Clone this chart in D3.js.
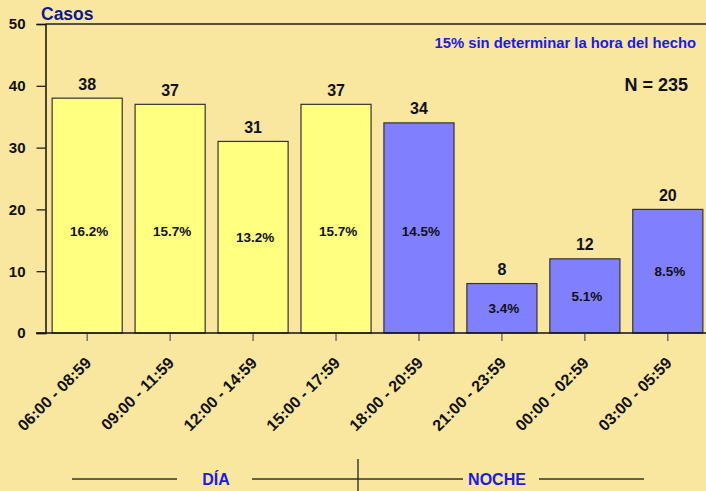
<!DOCTYPE html>
<html>
<head>
<meta charset="utf-8">
<script src="https://cdn.jsdelivr.net/npm/d3@7"></script>
<style>
	body { margin: 0; background: #f9e79f; }
	svg { display: block; font-family: 'Liberation Sans', Arial, sans-serif; font-weight: bold; }
</style>
</head>
<body>
<div id="chart"></div>
<script>
// data
const franjas = ['06:00 - 08:59', '09:00 - 11:59', '12:00 - 14:59', '15:00 - 17:59',
	'18:00 - 20:59', '21:00 - 23:59', '00:00 - 02:59', '03:00 - 05:59'];
const casos = [38, 37, 31, 37, 34, 8, 12, 20];
const porcentajes = ['16.2%', '15.7%', '13.2%', '15.7%', '14.5%', '3.4%', '5.1%', '8.5%'];
const periodo = ['DÍA', 'DÍA', 'DÍA', 'DÍA', 'NOCHE', 'NOCHE', 'NOCHE', 'NOCHE'];
const yTicks = [0, 10, 20, 30, 40, 50];

const config = {
	width: 706,
	height: 491,
	margin: {top: 24, left: 45.5, bottom: 158},
	colours: {'DÍA': '#ffff80', 'NOCHE': '#8080ff'},
	// bracket under the axis: [line from, line to] pairs and label centres
	bracketY: 479,
	divider: 358,
	brackets: [
		{label: 'DÍA', cx: 216, left: [72, 177], right: [252, 358]},
		{label: 'NOCHE', cx: 497, left: [358, 463], right: [539, 644]}
	]
};

const svg = d3.select('#chart')
	.append('svg')
	.attr('width', config.width)
	.attr('height', config.height);

const x = d3.scaleBand()
	.domain(franjas)
	.range([config.margin.left, config.margin.left + 83 * franjas.length])
	.paddingInner(0.155)
	.paddingOuter(0.08);

const y = d3.scaleLinear()
	.domain([0, 50])
	.range([config.height - config.margin.bottom, config.margin.top]);

// top frame line
svg.append('line')
	.attr('x1', config.margin.left).attr('x2', config.width)
	.attr('y1', y(50)).attr('y2', y(50))
	.attr('stroke', '#222').attr('stroke-width', 1.5);

// bars
svg.append('g')
	.selectAll('rect')
	.data(franjas)
	.enter()
	.append('rect')
		.attr('x', d => x(d))
		.attr('y', (d, i) => y(casos[i]))
		.attr('width', x.bandwidth())
		.attr('height', (d, i) => y(0) - y(casos[i]))
		.attr('fill', (d, i) => config.colours[periodo[i]])
		.attr('stroke', '#333')
		.attr('stroke-width', 1.2);

// values over bars
svg.append('g')
	.selectAll('text')
	.data(franjas)
	.enter()
	.append('text')
		.attr('x', d => x(d) + x.bandwidth() / 2)
		.attr('y', (d, i) => y(casos[i]) - 8.5)
		.attr('text-anchor', 'middle')
		.attr('font-size', 16)
		.attr('fill', '#111')
		.text((d, i) => casos[i]);

// percentages inside bars
svg.append('g')
	.selectAll('text')
	.data(franjas)
	.enter()
	.append('text')
		.attr('x', d => x(d) + x.bandwidth() / 2 + 2)
		.attr('y', (d, i) => y(Math.min(casos[i] / 2, 16.5)) + 5)
		.attr('text-anchor', 'middle')
		.attr('font-size', 13.5)
		.attr('fill', '#111')
		.text((d, i) => porcentajes[i]);

// y axis
const yAxis = svg.append('g')
	.attr('transform', `translate(${config.margin.left},0)`)
	.call(d3.axisLeft(y).tickValues(yTicks).tickSize(9).tickPadding(11));
yAxis.select('.domain').attr('stroke', '#111').attr('stroke-width', 1.5);
yAxis.selectAll('.tick line').attr('stroke', '#111').attr('stroke-width', 1.2);
yAxis.selectAll('.tick text')
	.attr('font-size', 15)
	.attr('font-family', 'Liberation Sans, Arial, sans-serif')
	.attr('font-weight', 'bold')
	.attr('fill', '#111');

// x axis
const xAxis = svg.append('g')
	.attr('transform', `translate(0,${y(0)})`)
	.call(d3.axisBottom(x).tickSize(8).tickSizeOuter(0));
xAxis.select('.domain').remove();
svg.append('line')
	.attr('x1', 36).attr('x2', config.width)
	.attr('y1', y(0)).attr('y2', y(0))
	.attr('stroke', '#111').attr('stroke-width', 1.5);
xAxis.selectAll('.tick line').attr('stroke', '#555').attr('stroke-width', 1.2);
xAxis.selectAll('.tick text')
	.attr('font-size', 16)
	.attr('font-family', 'Liberation Sans, Arial, sans-serif')
	.attr('font-weight', 'bold')
	.attr('fill', '#111')
	.attr('text-anchor', 'end')
	.attr('dy', null)
	.attr('y', 0)
	.attr('transform', 'translate(5,31) rotate(-45)');

// titles
svg.append('text')
	.attr('x', 41).attr('y', 20)
	.attr('font-size', 17.5)
	.attr('fill', '#0c1a8c')
	.text('Casos');

svg.append('text')
	.attr('x', 696).attr('y', 48)
	.attr('text-anchor', 'end')
	.attr('font-size', 14.8)
	.attr('fill', '#1a1aee')
	.text('15% sin determinar la hora del hecho');

svg.append('text')
	.attr('x', 688).attr('y', 91)
	.attr('text-anchor', 'end')
	.attr('font-size', 18)
	.attr('fill', '#111')
	.text('N = 235');

// DÍA / NOCHE brackets
const legend = svg.append('g');
config.brackets.forEach(g => {
	[g.left, g.right].forEach(seg => {
		legend.append('line')
			.attr('x1', seg[0]).attr('x2', seg[1])
			.attr('y1', config.bracketY).attr('y2', config.bracketY)
			.attr('stroke', '#333').attr('stroke-width', 1.3);
	});
	legend.append('text')
		.attr('x', g.cx).attr('y', config.bracketY + 6)
		.attr('text-anchor', 'middle')
		.attr('font-size', 16)
		.attr('fill', '#1a1aee')
		.text(g.label);
});
legend.append('line')
	.attr('x1', config.divider).attr('x2', config.divider)
	.attr('y1', 459).attr('y2', config.height)
	.attr('stroke', '#222').attr('stroke-width', 1.3);
</script>
</body>
</html>
